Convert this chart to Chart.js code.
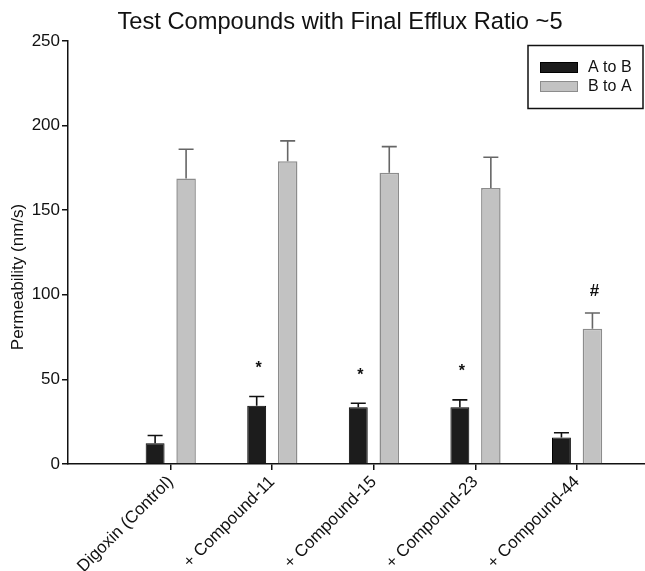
<!DOCTYPE html>
<html>
<head>
<meta charset="utf-8">
<title>Test Compounds with Final Efflux Ratio ~5</title>
<script src="https://cdn.jsdelivr.net/npm/chart.js@4.4.1/dist/chart.umd.min.js"></script>
<style>
  html, body { margin: 0; padding: 0; background: #fff; }
  #wrap { width: 645px; height: 571px; position: relative; }
</style>
</head>
<body>
<div id="wrap"><canvas id="chart"></canvas></div>
<script>
// data
const categories = ['Digoxin (Control)', '+ Compound-11', '+ Compound-15', '+ Compound-23', '+ Compound-44'];
const seriesNames = ['A to B', 'B to A'];
const aToB = [12.3, 34.5, 33.6, 33.6, 15.6];
const bToA = [168.8, 179, 172.2, 163.1, 80];
const errAToB = [4.5, 5.4, 2.3, 4.3, 2.9];
const errBToA = [17.2, 12, 15.4, 18.2, 9.2];
const marksAToB = ['', '*', '*', '*', ''];
const marksBToA = ['', '', '', '', '#'];
const yTicks = [0, 50, 100, 150, 200, 250];

const FONT = '"Liberation Sans", Arial, Helvetica, sans-serif';

// draws title, y title, legend box, error bars and significance marks
const extrasPlugin = {
    id: 'extras',
    afterDatasetsDraw(chart) {
        const ctx = chart.ctx;
        const y = chart.scales.y;
        const errs = [errAToB, errBToA];
        const vals = [aToB, bToA];
        const marks = [marksAToB, marksBToA];
        const errColors = ['#111', '#666'];
        ctx.save();
        chart.data.datasets.forEach((ds, d) => {
            const meta = chart.getDatasetMeta(d);
            meta.data.forEach((bar, i) => {
                const top = y.getPixelForValue(vals[d][i] + errs[d][i]);
                ctx.strokeStyle = errColors[d];
                ctx.lineWidth = 1.6;
                ctx.beginPath();
                ctx.moveTo(bar.x, bar.y);
                ctx.lineTo(bar.x, top);
                ctx.moveTo(bar.x - 7.5, top);
                ctx.lineTo(bar.x + 7.5, top);
                ctx.stroke();
                const m = marks[d][i];
                if (m) {
                    ctx.fillStyle = '#111';
                    ctx.textAlign = 'center';
                    ctx.textBaseline = 'middle';
                    if (m === '*') {
                        ctx.font = 'bold 16px ' + FONT;
                        ctx.fillText(m, bar.x + 2, top - 28);
                    } else {
                        ctx.font = 'bold 17px ' + FONT;
                        ctx.fillText(m, bar.x + 2, top - 22);
                    }
                }
            });
        });
        ctx.restore();
    },
    afterDraw(chart) {
        const ctx = chart.ctx;
        ctx.save();
        ctx.fillStyle = '#111';
        // title
        ctx.font = '23.7px ' + FONT;
        ctx.textAlign = 'center';
        ctx.textBaseline = 'alphabetic';
        ctx.fillText('Test Compounds with Final Efflux Ratio ~5', 340, 29);
        // y axis title
        ctx.save();
        ctx.translate(18, 277);
        ctx.rotate(-Math.PI / 2);
        ctx.font = '17px ' + FONT;
        ctx.textBaseline = 'middle';
        ctx.fillText('Permeability (nm/s)', 0, 0);
        ctx.restore();
        // legend
        ctx.strokeStyle = '#111';
        ctx.lineWidth = 1.5;
        ctx.strokeRect(528, 45.5, 115, 63);
        const sw = [[62, '#1c1c1c', '#000'], [81, '#c2c2c2', '#8c8c8c']];
        ctx.font = '16px ' + FONT;
        ctx.textAlign = 'left';
        ctx.textBaseline = 'middle';
        sw.forEach((s, k) => {
            ctx.fillStyle = s[1];
            ctx.fillRect(540, s[0], 38, 11);
            ctx.strokeStyle = s[2];
            ctx.lineWidth = 1;
            ctx.strokeRect(540.5, s[0] + 0.5, 37, 10);
            ctx.fillStyle = '#111';
            ctx.fillText(seriesNames[k], 588, s[0] + 6);
        });
        ctx.restore();
    }
};

const ctx = document.getElementById('chart').getContext('2d');
new Chart(ctx, {
    type: 'bar',
    data: {
        datasets: [
            {
                label: seriesNames[0],
                data: aToB.map((v, i) => ({ x: i, y: v })),
                backgroundColor: '#1c1c1c',
                borderColor: '#000',
                borderWidth: 1,
                categoryPercentage: 0.61,
                barPercentage: 0.61
            },
            {
                label: seriesNames[1],
                data: bToA.map((v, i) => ({ x: i, y: v })),
                backgroundColor: '#c2c2c2',
                borderColor: '#8c8c8c',
                borderWidth: 1.5,
                categoryPercentage: 0.61,
                barPercentage: 0.63
            }
        ]
    },
    options: {
        responsive: true,
        maintainAspectRatio: false,
        animation: false,
        layout: { padding: { top: 41, left: 0, right: 0, bottom: 0 } },
        plugins: {
            legend: { display: false },
            title: { display: false },
            tooltip: { enabled: false }
        },
        scales: {
            x: {
                type: 'linear',
                offset: false,
                min: -1.01,
                max: 4.67,
                afterBuildTicks: (scale) => {
                    scale.ticks = categories.map((c, i) => ({ value: i }));
                },
                afterFit: (scale) => { scale.height = 107; },
                ticks: {
                    autoSkip: false,
                    maxRotation: 45,
                    minRotation: 45,
                    padding: 2,
                    color: '#111',
                    font: { family: FONT, size: 17 },
                    callback: (v) => categories[v] || ''
                },
                grid: {
                    offset: false,
                    drawOnChartArea: false,
                    drawTicks: true,
                    tickLength: 6,
                    color: '#111',
                    lineWidth: 1.5
                },
                border: { display: true, color: '#111', width: 1.5 }
            },
            y: {
                min: 0,
                max: 250,
                afterBuildTicks: (scale) => {
                    scale.ticks = yTicks.map(v => ({ value: v }));
                },
                afterFit: (scale) => { scale.width = 68; },
                ticks: {
                    padding: 2,
                    color: '#111',
                    font: { family: FONT, size: 17 }
                },
                grid: {
                    drawOnChartArea: false,
                    drawTicks: true,
                    tickLength: 6,
                    color: '#111',
                    lineWidth: 1.5
                },
                border: { display: true, color: '#111', width: 1.5 }
            }
        }
    },
    plugins: [extrasPlugin]
});
</script>
</body>
</html>
